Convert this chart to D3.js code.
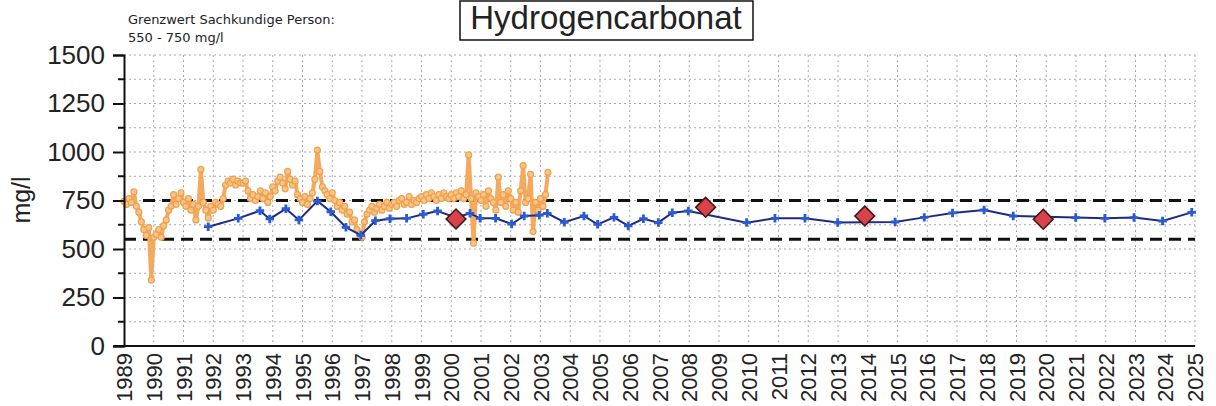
<!DOCTYPE html>
<meta charset="utf-8">
<head>
<title>Hydrogencarbonat</title>
<script src="https://d3js.org/d3.v7.min.js"></script>
<style>
  body { margin: 0; background: #fff; }
  text { font-family: "Liberation Sans", Arial, sans-serif; fill: #222; }
</style>
</head>
<body>
<div id="chart"></div>
<script>
  // --- data ---
  var yearTicks = d3.range(1989, 2026);
  var yTicks = [0, 250, 500, 750, 1000, 1250, 1500];
  var limitLow = 550, limitHigh = 750;

  // orange series: one value per month from Jan 1989 to Apr 2003
  var orangeStart = 1989;
  var orangeMonthly = [
    745, 730, 760, 740, 795, 720, 690, 640, 600, 570, 610, 340,   // 1989
    560, 575, 600, 560, 620, 650, 700, 720, 780, 730, 760, 790,   // 1990
    740, 720, 760, 700, 730, 650, 720, 910, 740, 700, 660, 720,   // 1991
    700, 740, 730, 720, 760, 830, 850, 840, 860, 830, 850, 840,   // 1992
    840, 850, 800, 760, 780, 750, 770, 800, 760, 790, 740, 770,   // 1993
    820, 800, 850, 870, 840, 810, 900, 860, 830, 850, 780, 760,   // 1994
    740, 770, 730, 760, 790, 860, 1010, 900, 820, 800, 780, 760,  // 1995
    790, 750, 720, 740, 700, 720, 680, 690, 640, 650, 600, 580,   // 1996
    560, 640, 680, 700, 720, 690, 710, 730, 700, 720, 740, 710,   // 1997
    730, 740, 720, 750, 760, 730, 740, 770, 730, 750, 740, 760,   // 1998
    770, 750, 780, 760, 790, 770, 750, 780, 760, 790, 770, 760,   // 1999
    780, 760, 790, 770, 800, 760, 780, 985, 760, 530, 790, 770,   // 2000
    750, 780, 720, 800, 760, 740, 700, 870, 740, 780, 720, 800,   // 2001
    760, 700, 740, 690, 800, 930, 740, 760, 885, 590, 740, 700,   // 2002
    760, 720, 780, 895                                            // 2003
  ];

  // blue series (single samples)
  var blueYears = [1991.83, 1992.84, 1993.57, 1993.9, 1994.44, 1994.88, 1995.5, 1995.95,
    1996.46, 1996.96, 1997.45, 1997.94, 1998.5, 1999.06, 1999.54, 2000.16, 2000.63, 2000.97,
    2001.49, 2002.03, 2002.45, 2002.96, 2003.23, 2003.8, 2004.46, 2004.92, 2005.47, 2005.95,
    2006.46, 2006.96, 2007.43, 2007.97, 2009.93, 2010.88, 2011.89, 2012.99, 2014.92, 2015.9,
    2016.85, 2017.91, 2018.89, 2020.99, 2021.97, 2022.95, 2023.91, 2024.89];
  var blueValues = [615, 658, 697, 655, 708, 650, 747, 692,
    612, 571, 646, 656, 658, 679, 696, 662, 684, 658,
    658, 629, 670, 674, 684, 638, 670, 627, 663, 619,
    656, 636, 687, 696, 636, 658, 658, 637, 639, 663,
    686, 701, 670, 662, 658, 662, 644, 689];

  // red diamonds
  var redYears = [2000.16, 2008.55, 2013.9, 2019.9];
  var redValues = [655, 715, 670, 653];

  // --- layout ---
  var W = 1216, H = 406;
  var x = d3.scaleLinear().domain([1989, 2025]).range([124, 1195]);
  var y = d3.scaleLinear().domain([0, 1500]).range([346, 55]);

  var svg = d3.select("#chart").append("svg")
    .attr("width", W).attr("height", H);

  // grid
  var grid = svg.append("g").attr("stroke", "#a8a8a8").attr("stroke-width", 1)
    .attr("stroke-dasharray", "2,3");
  grid.selectAll(".gx").data(yearTicks.slice(1)).enter().append("line")
    .attr("x1", function(d) { return x(d); }).attr("x2", function(d) { return x(d); })
    .attr("y1", y(1500)).attr("y2", y(0));
  grid.selectAll(".gy").data(d3.range(125, 1501, 125)).enter().append("line")
    .attr("x1", x(1989)).attr("x2", x(2025))
    .attr("y1", function(d) { return y(d); }).attr("y2", function(d) { return y(d); });

  // limit lines
  svg.selectAll(".limit").data([limitLow, limitHigh]).enter().append("line")
    .attr("x1", x(1989)).attr("x2", x(2025))
    .attr("y1", function(d) { return y(d); }).attr("y2", function(d) { return y(d); })
    .attr("stroke", "#111").attr("stroke-width", 3).attr("stroke-dasharray", "12,7");

  // orange series
  var orange = orangeMonthly.map(function(v, i) { return [orangeStart + i / 12, v]; });
  var line = d3.line().x(function(d) { return x(d[0]); }).y(function(d) { return y(d[1]); });
  svg.append("path").datum(orange)
    .attr("d", line).attr("fill", "none")
    .attr("stroke", "#f4aa5e").attr("stroke-width", 4).attr("stroke-linejoin", "round");
  svg.selectAll(".oc").data(orange).enter().append("circle")
    .attr("cx", function(d) { return x(d[0]); }).attr("cy", function(d) { return y(d[1]); })
    .attr("r", 3).attr("fill", "#f9c48a").attr("stroke", "#eea04c").attr("stroke-width", 1.2);

  // blue series
  var blue = blueYears.map(function(t, i) { return [t, blueValues[i]]; });
  svg.append("path").datum(blue)
    .attr("d", line).attr("fill", "none")
    .attr("stroke", "#1c2a86").attr("stroke-width", 2);
  var cross = d3.symbol().type(d3.symbolCross).size(40);
  svg.selectAll(".bc").data(blue).enter().append("path")
    .attr("d", cross)
    .attr("transform", function(d) { return "translate(" + x(d[0]) + "," + y(d[1]) + ")"; })
    .attr("fill", "#2a5bd0");

  // red diamonds
  var red = redYears.map(function(t, i) { return [t, redValues[i]]; });
  svg.selectAll(".rd").data(red).enter().append("rect")
    .attr("x", -7).attr("y", -7).attr("width", 14).attr("height", 14)
    .attr("transform", function(d) { return "translate(" + x(d[0]) + "," + y(d[1]) + ") rotate(45)"; })
    .attr("fill", "#d8424b").attr("stroke", "#3b1515").attr("stroke-width", 1.5);

  // y axis
  var yAxis = svg.append("g").attr("transform", "translate(" + x(1989) + ",0)")
    .call(d3.axisLeft(y).tickValues(yTicks).tickFormat(d3.format("d")).tickSize(11).tickPadding(8));
  yAxis.select(".domain").attr("stroke", "#111").attr("stroke-width", 2);
  yAxis.selectAll(".tick line").attr("stroke", "#111").attr("stroke-width", 2);
  yAxis.selectAll("text").style("font-size", "26px").attr("fill", "#222")
    .style("font-family", "'Liberation Sans', Arial, sans-serif");
  yAxis.selectAll(".minor").data(d3.range(125, 1500, 250)).enter().append("line")
    .attr("x1", -6).attr("x2", 0)
    .attr("y1", function(d) { return y(d); }).attr("y2", function(d) { return y(d); })
    .attr("stroke", "#111").attr("stroke-width", 2);

  // x axis
  svg.append("line").attr("x1", x(1989) - 11).attr("x2", x(2025))
    .attr("y1", y(0)).attr("y2", y(0)).attr("stroke", "#111").attr("stroke-width", 2);
  svg.selectAll(".xl").data(yearTicks).enter().append("text")
    .attr("transform", function(d) { return "translate(" + (x(d) + 8) + "," + 353 + ") rotate(-90)"; })
    .attr("text-anchor", "end")
    .style("font-size", "22px")
    .text(function(d) { return d; });

  // axis title
  svg.append("text")
    .attr("transform", "translate(30,200) rotate(-90)")
    .attr("text-anchor", "middle")
    .style("font-size", "25px")
    .text("mg/l");

  // title box
  svg.append("rect").attr("x", 460).attr("y", 1).attr("width", 293).attr("height", 39)
    .attr("fill", "none").attr("stroke", "#111").attr("stroke-width", 1.5);
  svg.append("text").attr("x", 606).attr("y", 29)
    .attr("text-anchor", "middle")
    .style("font-size", "33px")
    .text("Hydrogencarbonat");

  // limit note
  svg.append("text").attr("x", 128).attr("y", 24)
    .style("font-family", "'DejaVu Sans', Verdana, sans-serif").style("font-size", "13px")
    .text("Grenzwert Sachkundige Person:");
  svg.append("text").attr("x", 128).attr("y", 42)
    .style("font-family", "'DejaVu Sans', Verdana, sans-serif").style("font-size", "13px")
    .text("550 - 750 mg/l");
</script>
</body>
